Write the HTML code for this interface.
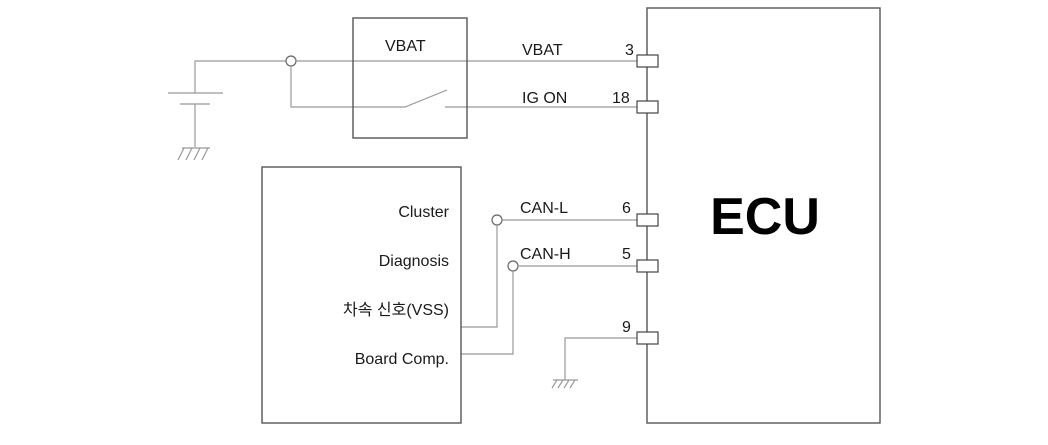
<!DOCTYPE html>
<html><head><meta charset="utf-8"><style>
body{margin:0;background:#fff}
svg{display:block}
text{font-family:"Liberation Sans","Noto Sans CJK KR",sans-serif;fill:#1a1a1a}
</style></head><body>
<svg width="1048" height="445" viewBox="0 0 1048 445">
<g fill="none" stroke="#999" stroke-width="1.2">
<path d="M195 93 V61 H286"/>
<path d="M168 93 H223 M180 104 H210 M195 104 V147"/>
<path d="M178 160 L184 148 M186 160 L192 148 M194 160 L200 148 M202 160 L208 148 M182 148 H210"/>
<circle cx="291" cy="61" r="5" stroke="#666"/>
<path d="M296 61 H637"/>
<path d="M291 66 V107 H405 L447 90 M445 107 H637"/>
<circle cx="497" cy="220" r="5" stroke="#666"/>
<path d="M502 220 H637 M497 225 V327 H461"/>
<circle cx="513" cy="266" r="5" stroke="#666"/>
<path d="M518 266 H637 M513 271 V354 H461"/>
<path d="M637 338 H565 V380 M553 380 H578 M552 388 L557 380 M558 388 L563 380 M564 388 L569 380 M570 388 L575 380"/>
</g>
<g fill="none" stroke="#555" stroke-width="1.4">
<rect x="353" y="18" width="114" height="120"/>
<rect x="262" y="167" width="199" height="256"/>
<rect x="647" y="8" width="233" height="415"/>
</g>
<g fill="#fff" stroke="#444" stroke-width="1.2">
<rect x="637" y="55" width="21" height="12"/>
<rect x="637" y="101" width="21" height="12"/>
<rect x="637" y="214" width="21" height="12"/>
<rect x="637" y="260" width="21" height="12"/>
<rect x="637" y="332" width="21" height="12"/>
</g>
<g font-size="16">
<text x="385" y="51">VBAT</text>
<text x="522" y="55">VBAT</text>
<text x="625" y="55">3</text>
<text x="522" y="103">IG ON</text>
<text x="612" y="103">18</text>
<text x="520" y="213">CAN-L</text>
<text x="622" y="213">6</text>
<text x="520" y="259">CAN-H</text>
<text x="622" y="259">5</text>
<text x="622" y="332">9</text>
<g text-anchor="end">
<text x="449" y="217">Cluster</text>
<text x="449" y="266">Diagnosis</text>
<text x="449" y="315">차속 신호(VSS)</text>
<text x="449" y="364">Board Comp.</text>
</g>
</g>
<text x="765" y="234" font-size="52" font-weight="bold" text-anchor="middle" style="fill:#000">ECU</text>
</svg>
</body></html>
